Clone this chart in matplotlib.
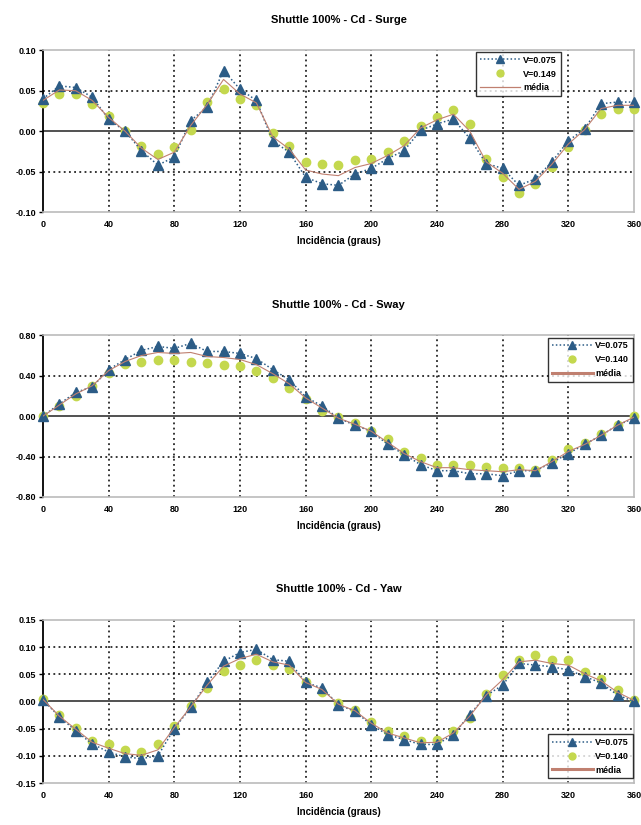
import matplotlib
matplotlib.use("Agg")
import matplotlib.pyplot as plt
from matplotlib.lines import Line2D

plt.rcParams['font.family'] = ['Liberation Sans', 'DejaVu Sans']

angles = list(range(0, 361, 10))
xticks = [0, 40, 80, 120, 160, 200, 240, 280, 320, 360]

surge_v075 = [0.040, 0.056, 0.054, 0.042, 0.015, 0.000, -0.024, -0.042, -0.032, 0.013,
              0.030, 0.075, 0.052, 0.038, -0.012, -0.026, -0.057, -0.065, -0.067, -0.053,
              -0.046, -0.034, -0.024, 0.001, 0.009, 0.015, -0.009, -0.040, -0.046, -0.067,
              -0.059, -0.038, -0.012, 0.003, 0.034, 0.036, 0.036]
surge_v149 = [0.035, 0.046, 0.046, 0.034, 0.019, 0.000, -0.018, -0.028, -0.020, 0.001,
              0.036, 0.052, 0.040, 0.032, -0.002, -0.018, -0.038, -0.041, -0.042, -0.036,
              -0.034, -0.026, -0.012, 0.007, 0.018, 0.026, 0.009, -0.035, -0.057, -0.077,
              -0.065, -0.044, -0.020, 0.001, 0.021, 0.028, 0.028]
surge_media = [0.038, 0.051, 0.050, 0.038, 0.017, 0.000, -0.021, -0.035, -0.026, 0.007,
               0.033, 0.064, 0.046, 0.035, -0.007, -0.022, -0.048, -0.053, -0.055, -0.045,
               -0.040, -0.030, -0.018, 0.004, 0.014, 0.021, 0.000, -0.038, -0.052, -0.072,
               -0.062, -0.041, -0.016, 0.002, 0.028, 0.032, 0.032]

sway_v075 = [0.00, 0.12, 0.235, 0.29, 0.46, 0.56, 0.65, 0.69, 0.67, 0.72,
             0.64, 0.64, 0.62, 0.57, 0.46, 0.36, 0.19, 0.10, -0.02, -0.09,
             -0.15, -0.28, -0.38, -0.48, -0.54, -0.54, -0.57, -0.57, -0.59, -0.54,
             -0.54, -0.46, -0.37, -0.28, -0.19, -0.09, -0.02]
sway_v149 = [0.00, 0.10, 0.20, 0.30, 0.43, 0.52, 0.54, 0.56, 0.56, 0.54,
             0.53, 0.51, 0.50, 0.45, 0.38, 0.28, 0.17, 0.05, -0.01, -0.07,
             -0.15, -0.23, -0.35, -0.41, -0.48, -0.48, -0.48, -0.50, -0.51, -0.51,
             -0.53, -0.43, -0.33, -0.27, -0.18, -0.09, 0.00]
sway_media = [0.00, 0.11, 0.22, 0.30, 0.45, 0.54, 0.60, 0.63, 0.62, 0.63,
              0.59, 0.58, 0.56, 0.51, 0.42, 0.32, 0.18, 0.08, -0.02, -0.08,
              -0.15, -0.26, -0.37, -0.45, -0.51, -0.51, -0.53, -0.54, -0.55, -0.53,
              -0.54, -0.45, -0.35, -0.28, -0.19, -0.09, -0.01]

yaw_v075 = [0.003, -0.028, -0.054, -0.078, -0.093, -0.102, -0.105, -0.100, -0.050, -0.011,
            0.035, 0.074, 0.090, 0.096, 0.077, 0.074, 0.035, 0.025, -0.006, -0.018,
            -0.043, -0.061, -0.070, -0.079, -0.079, -0.061, -0.024, 0.011, 0.030, 0.070,
            0.067, 0.064, 0.058, 0.046, 0.034, 0.012, 0.000]
yaw_v149 = [0.005, -0.025, -0.048, -0.072, -0.078, -0.090, -0.093, -0.078, -0.045, -0.008,
            0.024, 0.056, 0.068, 0.077, 0.068, 0.059, 0.035, 0.018, -0.003, -0.015,
            -0.037, -0.055, -0.064, -0.073, -0.070, -0.055, -0.030, 0.013, 0.049, 0.076,
            0.085, 0.076, 0.076, 0.055, 0.041, 0.021, 0.003]
yaw_media = [0.004, -0.027, -0.051, -0.075, -0.086, -0.096, -0.099, -0.089, -0.048, -0.010,
             0.030, 0.065, 0.079, 0.087, 0.073, 0.067, 0.035, 0.022, -0.005, -0.017,
             -0.040, -0.058, -0.067, -0.076, -0.075, -0.058, -0.027, 0.012, 0.040, 0.073,
             0.076, 0.070, 0.067, 0.051, 0.038, 0.017, 0.002]

blue = '#2C5C86'
green = '#C4D84E'
red = '#C08070'

panels = [
    dict(title='Shuttle 100% - Cd - Surge', v1=surge_v075, v2=surge_v149, m=surge_media,
         yticks=[-0.10, -0.05, 0.00, 0.05, 0.10], lab2='V=0.149',
         pos=[0.067, 0.743, 0.922, 0.196], leg=dict(loc='upper left', bbox=(0.733, 0.99)), mlw=0.9),
    dict(title='Shuttle 100% - Cd - Sway', v1=sway_v075, v2=sway_v149, m=sway_media,
         yticks=[-0.80, -0.40, 0.00, 0.40, 0.80], lab2='V=0.140',
         pos=[0.067, 0.3976, 0.922, 0.196], leg=dict(loc='upper right', bbox=(0.998, 0.985)), mlw=2.2),
    dict(title='Shuttle 100% - Cd - Yaw', v1=yaw_v075, v2=yaw_v149, m=yaw_media,
         yticks=[-0.15, -0.10, -0.05, 0.00, 0.05, 0.10, 0.15], lab2='V=0.140',
         pos=[0.067, 0.0509, 0.922, 0.1976], leg=dict(loc='upper right', bbox=(0.998, 0.30)), mlw=2.2),
]

fig = plt.figure(figsize=(6.41, 8.25), dpi=100)

for p in panels:
    ax = fig.add_axes(p['pos'])
    yt = p['yticks']
    ax.set_xlim(0, 360)
    ax.set_ylim(yt[0], yt[-1])

    # dotted black grid on interior ticks
    for x in xticks[1:-1]:
        ax.axvline(x, color='black', ls=(0, (1.2, 2.2)), lw=1.1, zorder=1)
    for y in yt[1:-1]:
        if y != 0:
            ax.axhline(y, color='black', ls=(0, (1.2, 2.2)), lw=1.1, zorder=1)
    ax.axhline(0, color='#333333', lw=1.2, zorder=1)

    ax.plot(angles, p['v2'], ls='none', marker='o', ms=6, color=green, mec=green,
            zorder=3, clip_on=False)
    ax.plot(angles, p['v1'], ls=(0, (1, 1.5)), lw=1.1, marker='^', ms=7, color=blue, mec=blue,
            zorder=4, clip_on=False)
    ax.plot(angles, p['m'], ls='-', lw=0.8, color=red, zorder=5)

    for s in ['top', 'right', 'bottom']:
        ax.spines[s].set_color('#BBBBBB')
        ax.spines[s].set_linewidth(1.2)
    ax.spines['left'].set_color('black')
    ax.spines['left'].set_linewidth(1.3)

    ax.set_xticks(xticks)
    ax.set_yticks(yt)
    ax.set_yticklabels(['%.2f' % v for v in yt])
    ax.tick_params(axis='x', length=0, pad=6, labelsize=6.5)
    ax.tick_params(axis='y', length=3, width=1, direction='out', labelsize=6.5, pad=2)
    for lab in ax.get_xticklabels() + ax.get_yticklabels():
        lab.set_fontweight('bold')

    ax.set_title(p['title'], fontsize=8, fontweight='bold', pad=20)
    ax.set_xlabel('Incidência (graus)', fontsize=7, fontweight='bold', labelpad=5)

    handles = [
        Line2D([], [], ls=(0, (1, 1.5)), lw=1.1, marker='^', ms=6, color=blue),
        Line2D([], [], ls='none', marker='o', ms=5, color=green),
        Line2D([], [], ls='-', lw=p['mlw'], color=red),
    ]
    leg = ax.legend(handles, ['V=0.075', p['lab2'], 'média'], loc=p['leg']['loc'],
                    bbox_to_anchor=p['leg']['bbox'], fontsize=6.5, frameon=True, fancybox=False,
                    edgecolor='black', handlelength=4.5, handletextpad=0.3, borderpad=0.4,
                    labelspacing=0.55, numpoints=1, borderaxespad=0)
    leg.get_frame().set_linewidth(1.0)
    leg.set_zorder(10)
    for t in leg.get_texts():
        t.set_fontweight('bold')

fig.savefig('out.png', dpi=100)
